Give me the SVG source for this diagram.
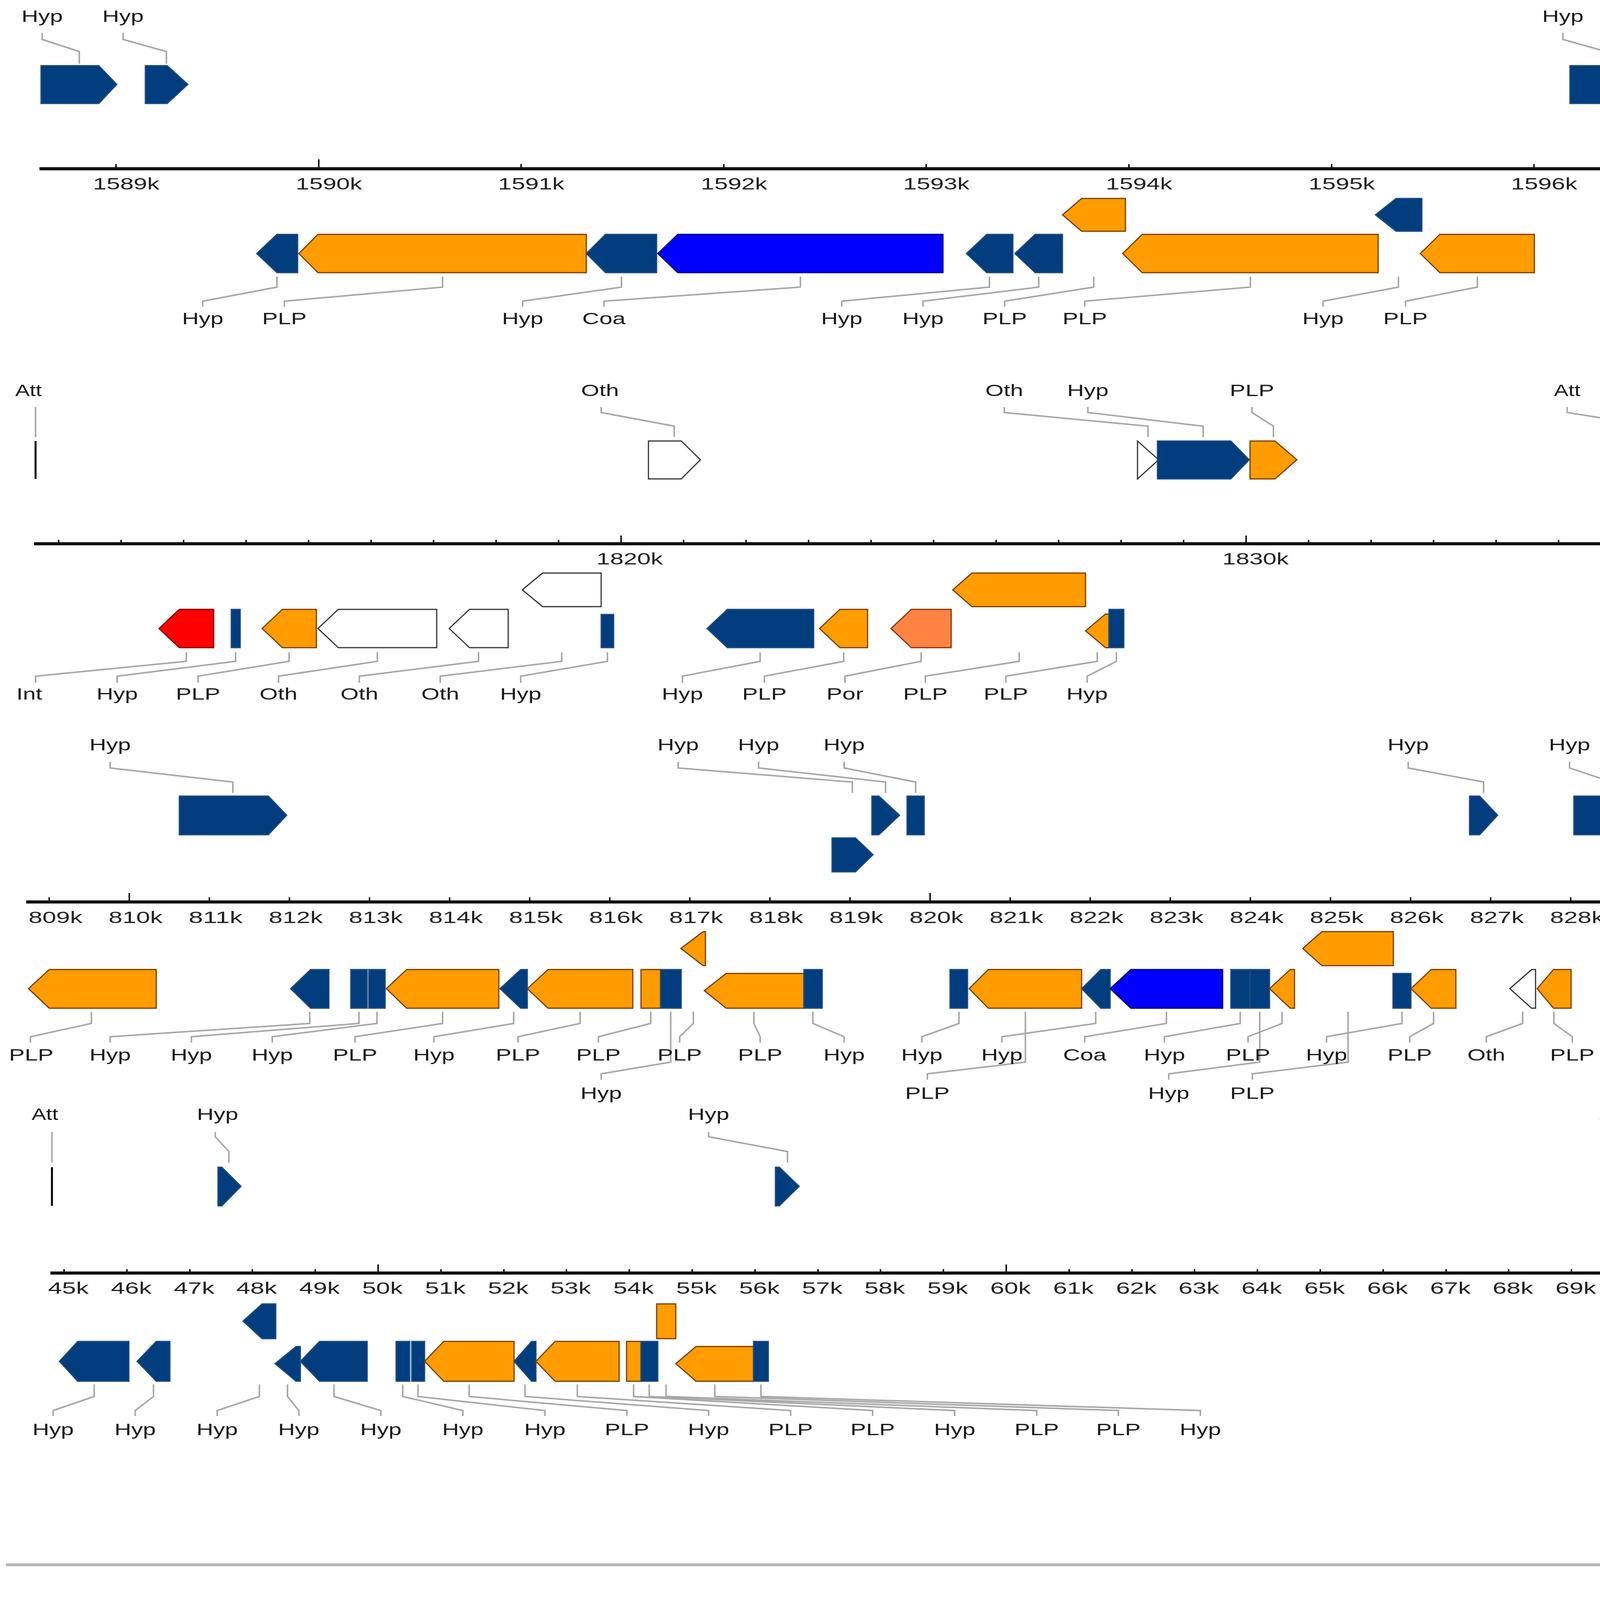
<svg xmlns="http://www.w3.org/2000/svg" width="4403" height="4800" viewBox="0 0 4403 4800">
<style>
.h{fill:#023E7D;stroke:#1f4a85;stroke-width:3}
.o{fill:#FF9C00;stroke:#7a3c00;stroke-width:3}
.c{fill:#0000FF;stroke:#00007a;stroke-width:3}
.w{fill:#FFFFFF;stroke:#333333;stroke-width:3}
.r{fill:#FF0000;stroke:#800000;stroke-width:3}
.p{fill:#FF8444;stroke:#8a3000;stroke-width:3}
.att{stroke:#000;stroke-width:5}
.ld{fill:none;stroke:#a8a8a8;stroke-width:4}
.ax{stroke:#111;stroke-width:8}
.tk{stroke:#111;stroke-width:4}
text{font-family:"Liberation Sans",Arial,sans-serif}
.l{font-size:42px;fill:#1a1a1a;text-anchor:middle}
.ls{font-size:42px;fill:#1a1a1a;text-anchor:start}
.k{font-size:43px;fill:#222;text-anchor:middle}
.g{font-size:53px;fill:#111}
.ti{font-size:57px;font-weight:bold;fill:#111}
.sw{stroke-width:5}
</style>
<rect width="4403" height="4800" fill="#fff"/>

<g id="connectors">
<path class="ld" d="M108,84V101L203,132V163M315,84V101L426,132V163M4001,84V101L4112,132V163"/>
<path class="ld" d="M709,708V735L519,771V785M1133,708V735L728,771V785M1591,708V735L1338,771V785M2049,708V735L1546,771V785M2533,708V735L2155,771V785M2659,708V735L2363,771V785M2800,708V735L2572,771V785M3201,708V735L2777,771V785M3580,708V735L3387,771V785M3782,708V735L3598,771V785"/>
<path class="ld" d="M91,1042V1119M1539,1042V1056L1726,1091V1119M2571,1042V1056L2939,1091V1119M2785,1042V1056L3080,1091V1119M3205,1042V1056L3260,1091V1119M4012,1042V1056L4232,1091V1119"/>
<path class="ld" d="M477,1670V1693L91,1731V1748M603,1670V1693L300,1731V1748M740,1670V1693L507,1731V1748M966,1670V1693L713,1731V1748M1225,1670V1693L920,1731V1748M1438,1670V1693L1127,1731V1748M1555,1670V1693L1333,1731V1748M1946,1670V1693L1747,1731V1748M2160,1670V1693L1957,1731V1748M2358,1670V1693L2163,1731V1748M2609,1670V1693L2369,1731V1748M2809,1670V1693L2575,1731V1748M2858,1670V1693L2783,1731V1748"/>
<path class="ld" d="M282,1950V1966L596,2002V2030M1736,1950V1966L2182,2002V2030M1942,1950V1966L2267,2002V2030M2161,1950V1966L2344,2002V2030M3605,1950V1966L3798,2002V2030M4018,1950V1966L4126,2002V2030"/>
<path class="ld" d="M234,2590V2620L78,2654V2669M793,2590V2620L282,2654V2669M919,2590V2620L490,2654V2669M965,2590V2620L697,2654V2669M1133,2590V2620L909,2654V2669M1315,2590V2620L1111,2654V2669M1485,2590V2620L1326,2654V2669M1666,2590V2620L1532,2654V2669M1775,2590V2620L1740,2654V2669M1930,2590V2620L1946,2654V2669M2081,2590V2620L2161,2654V2669M2455,2590V2620L2360,2654V2669M2805,2590V2620L2565,2654V2669M2986,2590V2620L2777,2654V2669M3175,2590V2620L2981,2654V2669M3282,2590V2620L3195,2654V2669M3589,2590V2620L3396,2654V2669M3670,2590V2620L3609,2654V2669M3898,2590V2620L3805,2654V2669M3978,2590V2620L4025,2654V2669"/>
<path class="ld" d="M1717,2590V2719L1539,2749V2764M2625,2590V2719L2374,2749V2764M3225,2590V2719L2992,2749V2764M3451,2590V2719L3206,2749V2764"/>
<path class="ld" d="M133,2898V2976M551,2898V2910L586,2948V2976M1814,2898V2910L2016,2948V2976M4129,2898V2910L4354,2948V2976"/>
<path class="ld" d="M241,3544V3575L136,3611V3625M393,3544V3575L346,3611V3625M664,3544V3575L556,3611V3625M736,3544V3575L765,3611V3625M855,3544V3575L975,3611V3625M1031,3544V3575L1185,3611V3625M1070,3544V3575L1395,3611V3625M1201,3544V3575L1605,3611V3625M1344,3544V3575L1814,3611V3625M1478,3544V3575L2024,3611V3625M1622,3544V3575L2234,3611V3625M1662,3544V3575L2444,3611V3625M1705,3544V3575L2654,3611V3625M1830,3544V3575L2863,3611V3625M1948,3544V3575L3073,3611V3625"/>
</g>

<!-- Panel 1 axis -->
<g id="axis1">
<line class="ax" x1="101" y1="432" x2="4206" y2="432"/>
<path class="tk" d="M297,420V432M816,408V432M1334,420V432M1853,420V432M2371,420V432M2890,420V432M3409,420V432M3927,420V432"/>
<text class="k" x="323" y="485" textLength="170" lengthAdjust="spacingAndGlyphs">1589k</text>
<text class="k" x="842" y="485" textLength="170" lengthAdjust="spacingAndGlyphs">1590k</text>
<text class="k" x="1360" y="485" textLength="170" lengthAdjust="spacingAndGlyphs">1591k</text>
<text class="k" x="1879" y="485" textLength="170" lengthAdjust="spacingAndGlyphs">1592k</text>
<text class="k" x="2397" y="485" textLength="170" lengthAdjust="spacingAndGlyphs">1593k</text>
<text class="k" x="2916" y="485" textLength="170" lengthAdjust="spacingAndGlyphs">1594k</text>
<text class="k" x="3435" y="485" textLength="170" lengthAdjust="spacingAndGlyphs">1595k</text>
<text class="k" x="3953" y="485" textLength="170" lengthAdjust="spacingAndGlyphs">1596k</text>
</g>
<!-- Panel 1 genes -->
<g id="p1t1"><polygon class="h" points="105,168 253,168 299,216 253,265 105,265"/><text class="l" x="108" y="56" textLength="106" lengthAdjust="spacingAndGlyphs">Hyp</text></g>
<g id="p1t2"><polygon class="h" points="372,168 428,168 481,216 428,265 372,265"/><text class="l" x="315" y="56" textLength="106" lengthAdjust="spacingAndGlyphs">Hyp</text></g>
<g id="p1t3"><polygon class="h" points="4019,168 4153,168 4206,216 4153,265 4019,265"/><text class="l" x="4001" y="56" textLength="106" lengthAdjust="spacingAndGlyphs">Hyp</text></g>
<g id="p1b1"><polygon class="h" points="762,600 709,600 657,649 709,698 762,698"/><text class="l" x="519" y="830" textLength="106" lengthAdjust="spacingAndGlyphs">Hyp</text></g>
<g id="p1b2"><polygon class="o" points="1501,600 814,600 765,649 814,698 1501,698"/><text class="l" x="728" y="830" textLength="114" lengthAdjust="spacingAndGlyphs">PLP</text></g>
<g id="p1b3"><polygon class="h" points="1681,600 1550,600 1501,649 1550,698 1681,698"/><text class="l" x="1338" y="830" textLength="106" lengthAdjust="spacingAndGlyphs">Hyp</text></g>
<g id="p1b4"><polygon class="c" points="2414,600 1735,600 1684,649 1735,698 2414,698"/><text class="l" x="1546" y="830" textLength="111" lengthAdjust="spacingAndGlyphs">Coa</text></g>
<g id="p1b5"><polygon class="h" points="2593,600 2526,600 2474,649 2526,698 2593,698"/><text class="l" x="2155" y="830" textLength="106" lengthAdjust="spacingAndGlyphs">Hyp</text></g>
<g id="p1b6"><polygon class="h" points="2720,600 2650,600 2598,649 2650,698 2720,698"/><text class="l" x="2363" y="830" textLength="106" lengthAdjust="spacingAndGlyphs">Hyp</text></g>
<g id="p1b7"><polygon class="o" points="2881,508 2769,508 2720,550 2769,592 2881,592"/><text class="l" x="2572" y="830" textLength="114" lengthAdjust="spacingAndGlyphs">PLP</text></g>
<g id="p1b8"><polygon class="o" points="3528,600 2924,600 2874,649 2924,698 3528,698"/><text class="l" x="2777" y="830" textLength="114" lengthAdjust="spacingAndGlyphs">PLP</text></g>
<g id="p1b9"><polygon class="h" points="3640,508 3574,508 3521,550 3574,592 3640,592"/><text class="l" x="3387" y="830" textLength="106" lengthAdjust="spacingAndGlyphs">Hyp</text></g>
<g id="p1b10"><polygon class="o" points="3928,600 3686,600 3636,649 3686,698 3928,698"/><text class="l" x="3598" y="830" textLength="114" lengthAdjust="spacingAndGlyphs">PLP</text></g>

<!-- Panel 2 axis -->
<g id="axis2">
<line class="ax" x1="87" y1="1392" x2="4237" y2="1392"/>
<path class="tk" d="M150,1382V1392M310,1382V1392M470,1382V1392M630,1382V1392M790,1382V1392M950,1382V1392M1110,1382V1392M1270,1382V1392M1430,1382V1392M1590,1371V1392M1750,1382V1392M1910,1382V1392M2070,1382V1392M2230,1382V1392M2390,1382V1392M2550,1382V1392M2710,1382V1392M2870,1382V1392M3030,1382V1392M3190,1371V1392M3350,1382V1392M3510,1382V1392M3670,1382V1392M3830,1382V1392M3990,1382V1392M4150,1382V1392"/>
<text class="k" x="1612" y="1445" textLength="170" lengthAdjust="spacingAndGlyphs">1820k</text>
<text class="k" x="3214" y="1445" textLength="170" lengthAdjust="spacingAndGlyphs">1830k</text>
</g>
<g id="p2att1"><line class="att" x1="91" y1="1129" x2="91" y2="1226"/><text class="ls" x="39" y="1014" textLength="68" lengthAdjust="spacingAndGlyphs">Att</text></g>
<g id="p2t1"><polygon class="w" points="1660,1129 1744,1129 1793,1177 1744,1226 1660,1226"/><text class="l" x="1536" y="1014" textLength="97" lengthAdjust="spacingAndGlyphs">Oth</text></g>
<g id="p2t2"><polygon class="w" points="2912,1129 2966,1177 2912,1226"/><text class="l" x="2571" y="1014" textLength="97" lengthAdjust="spacingAndGlyphs">Oth</text></g>
<g id="p2t3"><polygon class="h" points="2963,1129 3151,1129 3198,1177 3151,1226 2963,1226"/><text class="l" x="2785" y="1014" textLength="106" lengthAdjust="spacingAndGlyphs">Hyp</text></g>
<g id="p2t4"><polygon class="o" points="3200,1129 3264,1129 3320,1177 3264,1226 3200,1226"/><text class="l" x="3205" y="1014" textLength="114" lengthAdjust="spacingAndGlyphs">PLP</text></g>
<g id="p2att2"><line class="att" x1="4232" y1="1129" x2="4232" y2="1226"/><text class="l" x="4012" y="1014" textLength="68" lengthAdjust="spacingAndGlyphs">Att</text></g>
<g id="p2b1"><polygon class="r" points="547,1560 459,1560 407,1609 459,1658 547,1658"/><text class="ls" x="42" y="1791" textLength="66" lengthAdjust="spacingAndGlyphs">Int</text></g>
<g id="p2b2"><rect class="h" x="592" y="1560" width="23" height="98"/><text class="l" x="300" y="1791" textLength="106" lengthAdjust="spacingAndGlyphs">Hyp</text></g>
<g id="p2b3"><polygon class="o" points="810,1560 723,1560 671,1609 723,1658 810,1658"/><text class="l" x="507" y="1791" textLength="114" lengthAdjust="spacingAndGlyphs">PLP</text></g>
<g id="p2b4"><polygon class="w" points="1118,1560 866,1560 814,1609 866,1658 1118,1658"/><text class="l" x="713" y="1791" textLength="97" lengthAdjust="spacingAndGlyphs">Oth</text></g>
<g id="p2b5"><polygon class="w" points="1301,1560 1202,1560 1150,1609 1202,1658 1301,1658"/><text class="l" x="920" y="1791" textLength="97" lengthAdjust="spacingAndGlyphs">Oth</text></g>
<g id="p2b6"><polygon class="w" points="1539,1467 1389,1467 1337,1510 1389,1553 1539,1553"/><text class="l" x="1127" y="1791" textLength="97" lengthAdjust="spacingAndGlyphs">Oth</text></g>
<g id="p2b7"><rect class="h" x="1539" y="1573" width="32" height="85"/><text class="l" x="1333" y="1791" textLength="106" lengthAdjust="spacingAndGlyphs">Hyp</text></g>
<g id="p2b8"><polygon class="h" points="2083,1560 1862,1560 1810,1609 1862,1658 2083,1658"/><text class="l" x="1747" y="1791" textLength="106" lengthAdjust="spacingAndGlyphs">Hyp</text></g>
<g id="p2b9"><polygon class="o" points="2221,1560 2150,1560 2098,1609 2150,1658 2221,1658"/><text class="l" x="1957" y="1791" textLength="114" lengthAdjust="spacingAndGlyphs">PLP</text></g>
<g id="p2b10"><polygon class="p" points="2435,1560 2333,1560 2281,1609 2333,1658 2435,1658"/><text class="l" x="2163" y="1791" textLength="95" lengthAdjust="spacingAndGlyphs">Por</text></g>
<g id="p2b11"><polygon class="o" points="2779,1467 2488,1467 2439,1510 2488,1553 2779,1553"/><text class="l" x="2369" y="1791" textLength="114" lengthAdjust="spacingAndGlyphs">PLP</text></g>
<g id="p2b12"><polygon class="o" points="2839,1572 2830,1572 2779,1615 2830,1658 2839,1658"/><text class="l" x="2575" y="1791" textLength="114" lengthAdjust="spacingAndGlyphs">PLP</text></g>
<g id="p2b13"><rect class="h" x="2839" y="1560" width="38" height="98"/><text class="l" x="2783" y="1791" textLength="106" lengthAdjust="spacingAndGlyphs">Hyp</text></g>

<!-- Panel 3 axis -->
<g id="axis3">
<line class="ax" x1="67" y1="2309" x2="4226" y2="2309"/>
<path class="tk" d="M126,2297V2309M331,2286V2309M536,2297V2309M741,2297V2309M946,2297V2309M1151,2297V2309M1356,2297V2309M1561,2297V2309M1766,2297V2309M1971,2297V2309M2176,2297V2309M2381,2286V2309M2586,2297V2309M2791,2297V2309M2996,2297V2309M3201,2297V2309M3406,2297V2309M3611,2297V2309M3816,2297V2309M4021,2297V2309M4226,2297V2309"/>
<text class="k" x="142" y="2363" textLength="138" lengthAdjust="spacingAndGlyphs">809k</text>
<text class="k" x="347" y="2363" textLength="138" lengthAdjust="spacingAndGlyphs">810k</text>
<text class="k" x="552" y="2363" textLength="138" lengthAdjust="spacingAndGlyphs">811k</text>
<text class="k" x="757" y="2363" textLength="138" lengthAdjust="spacingAndGlyphs">812k</text>
<text class="k" x="962" y="2363" textLength="138" lengthAdjust="spacingAndGlyphs">813k</text>
<text class="k" x="1167" y="2363" textLength="138" lengthAdjust="spacingAndGlyphs">814k</text>
<text class="k" x="1372" y="2363" textLength="138" lengthAdjust="spacingAndGlyphs">815k</text>
<text class="k" x="1577" y="2363" textLength="138" lengthAdjust="spacingAndGlyphs">816k</text>
<text class="k" x="1782" y="2363" textLength="138" lengthAdjust="spacingAndGlyphs">817k</text>
<text class="k" x="1987" y="2363" textLength="138" lengthAdjust="spacingAndGlyphs">818k</text>
<text class="k" x="2192" y="2363" textLength="138" lengthAdjust="spacingAndGlyphs">819k</text>
<text class="k" x="2397" y="2363" textLength="138" lengthAdjust="spacingAndGlyphs">820k</text>
<text class="k" x="2602" y="2363" textLength="138" lengthAdjust="spacingAndGlyphs">821k</text>
<text class="k" x="2807" y="2363" textLength="138" lengthAdjust="spacingAndGlyphs">822k</text>
<text class="k" x="3012" y="2363" textLength="138" lengthAdjust="spacingAndGlyphs">823k</text>
<text class="k" x="3217" y="2363" textLength="138" lengthAdjust="spacingAndGlyphs">824k</text>
<text class="k" x="3422" y="2363" textLength="138" lengthAdjust="spacingAndGlyphs">825k</text>
<text class="k" x="3627" y="2363" textLength="138" lengthAdjust="spacingAndGlyphs">826k</text>
<text class="k" x="3832" y="2363" textLength="138" lengthAdjust="spacingAndGlyphs">827k</text>
<text class="k" x="4037" y="2363" textLength="138" lengthAdjust="spacingAndGlyphs">828k</text>
<text class="k" x="4242" y="2363" textLength="138" lengthAdjust="spacingAndGlyphs">829k</text>
</g>
<g id="p3t1"><polygon class="h" points="459,2038 687,2038 734,2087 687,2137 459,2137"/><text class="l" x="282" y="1921" textLength="106" lengthAdjust="spacingAndGlyphs">Hyp</text></g>
<g id="p3t2"><polygon class="h" points="2130,2145 2190,2145 2235,2188 2190,2232 2130,2232"/><text class="l" x="1736" y="1921" textLength="106" lengthAdjust="spacingAndGlyphs">Hyp</text></g>
<g id="p3t3"><polygon class="h" points="2232,2038 2250,2038 2303,2087 2250,2137 2232,2137"/><text class="l" x="1942" y="1921" textLength="106" lengthAdjust="spacingAndGlyphs">Hyp</text></g>
<g id="p3t4"><rect class="h" x="2322" y="2038" width="44" height="99"/><text class="l" x="2161" y="1921" textLength="106" lengthAdjust="spacingAndGlyphs">Hyp</text></g>
<g id="p3t5"><polygon class="h" points="3762,2038 3788,2038 3834,2087 3788,2137 3762,2137"/><text class="l" x="3605" y="1921" textLength="106" lengthAdjust="spacingAndGlyphs">Hyp</text></g>
<g id="p3t6"><polygon class="h" points="4029,2038 4174,2038 4223,2087 4174,2137 4029,2137"/><text class="l" x="4018" y="1921" textLength="106" lengthAdjust="spacingAndGlyphs">Hyp</text></g>
<g id="p3b1"><polygon class="o" points="400,2482 126,2482 73,2531 126,2581 400,2581"/><text class="l" x="80" y="2715" textLength="114" lengthAdjust="spacingAndGlyphs">PLP</text></g>
<g id="p3b2"><polygon class="h" points="842,2482 795,2482 744,2531 795,2581 842,2581"/><text class="l" x="282" y="2715" textLength="106" lengthAdjust="spacingAndGlyphs">Hyp</text></g>
<g id="p3b3"><rect class="h" x="898" y="2482" width="42" height="99"/><text class="l" x="490" y="2715" textLength="106" lengthAdjust="spacingAndGlyphs">Hyp</text></g>
<g id="p3b4"><rect class="h" x="944" y="2482" width="42" height="99"/><text class="l" x="697" y="2715" textLength="106" lengthAdjust="spacingAndGlyphs">Hyp</text></g>
<g id="p3b5"><polygon class="o" points="1277,2482 1041,2482 989,2531 1041,2581 1277,2581"/><text class="l" x="909" y="2715" textLength="114" lengthAdjust="spacingAndGlyphs">PLP</text></g>
<g id="p3b6"><polygon class="h" points="1350,2482 1333,2482 1280,2531 1333,2581 1350,2581"/><text class="l" x="1111" y="2715" textLength="106" lengthAdjust="spacingAndGlyphs">Hyp</text></g>
<g id="p3b7"><polygon class="o" points="1620,2482 1403,2482 1350,2531 1403,2581 1620,2581"/><text class="l" x="1326" y="2715" textLength="114" lengthAdjust="spacingAndGlyphs">PLP</text></g>
<g id="p3b8"><rect class="o" x="1641" y="2482" width="50" height="99"/><text class="l" x="1532" y="2715" textLength="114" lengthAdjust="spacingAndGlyphs">PLP</text></g>
<g id="p3b9"><rect class="h" x="1691" y="2482" width="53" height="99"/><text class="l" x="1539" y="2813" textLength="106" lengthAdjust="spacingAndGlyphs">Hyp</text></g>
<g id="p3b10"><polygon class="o" points="1806,2385 1800,2385 1743,2428 1800,2472 1806,2472"/><text class="l" x="1740" y="2715" textLength="114" lengthAdjust="spacingAndGlyphs">PLP</text></g>
<g id="p3b11"><polygon class="o" points="2058,2492 1859,2492 1803,2536 1859,2581 2058,2581"/><text class="l" x="1946" y="2715" textLength="114" lengthAdjust="spacingAndGlyphs">PLP</text></g>
<g id="p3b12"><rect class="h" x="2058" y="2482" width="47" height="99"/><text class="l" x="2161" y="2715" textLength="106" lengthAdjust="spacingAndGlyphs">Hyp</text></g>
<g id="p3b13"><rect class="h" x="2432" y="2482" width="45" height="99"/><text class="l" x="2360" y="2715" textLength="106" lengthAdjust="spacingAndGlyphs">Hyp</text></g>
<g id="p3b14"><polygon class="o" points="2769,2482 2530,2482 2481,2531 2530,2581 2769,2581"/><text class="l" x="2374" y="2813" textLength="114" lengthAdjust="spacingAndGlyphs">PLP</text></g>
<g id="p3b15"><polygon class="h" points="2842,2482 2818,2482 2769,2531 2818,2581 2842,2581"/><text class="l" x="2565" y="2715" textLength="106" lengthAdjust="spacingAndGlyphs">Hyp</text></g>
<g id="p3b16"><polygon class="c" points="3130,2482 2895,2482 2842,2531 2895,2581 3130,2581"/><text class="l" x="2777" y="2715" textLength="111" lengthAdjust="spacingAndGlyphs">Coa</text></g>
<g id="p3b17"><rect class="h" x="3151" y="2482" width="49" height="99"/><text class="l" x="2981" y="2715" textLength="106" lengthAdjust="spacingAndGlyphs">Hyp</text></g>
<g id="p3b18"><rect class="h" x="3200" y="2482" width="50" height="99"/><text class="l" x="2992" y="2813" textLength="106" lengthAdjust="spacingAndGlyphs">Hyp</text></g>
<g id="p3b19"><polygon class="o" points="3314,2482 3303,2482 3250,2531 3303,2581 3314,2581"/><text class="l" x="3195" y="2715" textLength="114" lengthAdjust="spacingAndGlyphs">PLP</text></g>
<g id="p3b20"><polygon class="o" points="3567,2385 3384,2385 3335,2428 3384,2472 3567,2472"/><text class="l" x="3206" y="2813" textLength="114" lengthAdjust="spacingAndGlyphs">PLP</text></g>
<g id="p3b21"><rect class="h" x="3566" y="2492" width="46" height="89"/><text class="l" x="3396" y="2715" textLength="106" lengthAdjust="spacingAndGlyphs">Hyp</text></g>
<g id="p3b22"><polygon class="o" points="3727,2482 3664,2482 3612,2531 3664,2581 3727,2581"/><text class="l" x="3609" y="2715" textLength="114" lengthAdjust="spacingAndGlyphs">PLP</text></g>
<g id="p3b23"><polygon class="w" points="3931,2482 3921,2482 3865,2531 3921,2581 3931,2581"/><text class="l" x="3805" y="2715" textLength="97" lengthAdjust="spacingAndGlyphs">Oth</text></g>
<g id="p3b24"><polygon class="o" points="4022,2482 3977,2482 3935,2531 3977,2581 4022,2581"/><text class="l" x="4025" y="2715" textLength="114" lengthAdjust="spacingAndGlyphs">PLP</text></g>

<!-- Panel 4 axis -->
<g id="axis4">
<line class="ax" x1="129" y1="3259" x2="4357" y2="3259"/>
<path class="tk" d="M164,3249V3259M325,3249V3259M486,3249V3259M646,3249V3259M807,3249V3259M968,3237V3259M1129,3249V3259M1290,3249V3259M1450,3249V3259M1611,3249V3259M1772,3249V3259M1933,3249V3259M2094,3249V3259M2254,3249V3259M2415,3249V3259M2576,3237V3259M2737,3249V3259M2898,3249V3259M3058,3249V3259M3219,3249V3259M3380,3249V3259M3541,3249V3259M3702,3249V3259M3862,3249V3259M4023,3249V3259M4184,3237V3259"/>
<text class="k" x="175" y="3312" textLength="104" lengthAdjust="spacingAndGlyphs">45k</text>
<text class="k" x="336" y="3312" textLength="104" lengthAdjust="spacingAndGlyphs">46k</text>
<text class="k" x="497" y="3312" textLength="104" lengthAdjust="spacingAndGlyphs">47k</text>
<text class="k" x="657" y="3312" textLength="104" lengthAdjust="spacingAndGlyphs">48k</text>
<text class="k" x="818" y="3312" textLength="104" lengthAdjust="spacingAndGlyphs">49k</text>
<text class="k" x="979" y="3312" textLength="104" lengthAdjust="spacingAndGlyphs">50k</text>
<text class="k" x="1140" y="3312" textLength="104" lengthAdjust="spacingAndGlyphs">51k</text>
<text class="k" x="1301" y="3312" textLength="104" lengthAdjust="spacingAndGlyphs">52k</text>
<text class="k" x="1461" y="3312" textLength="104" lengthAdjust="spacingAndGlyphs">53k</text>
<text class="k" x="1622" y="3312" textLength="104" lengthAdjust="spacingAndGlyphs">54k</text>
<text class="k" x="1783" y="3312" textLength="104" lengthAdjust="spacingAndGlyphs">55k</text>
<text class="k" x="1944" y="3312" textLength="104" lengthAdjust="spacingAndGlyphs">56k</text>
<text class="k" x="2105" y="3312" textLength="104" lengthAdjust="spacingAndGlyphs">57k</text>
<text class="k" x="2265" y="3312" textLength="104" lengthAdjust="spacingAndGlyphs">58k</text>
<text class="k" x="2426" y="3312" textLength="104" lengthAdjust="spacingAndGlyphs">59k</text>
<text class="k" x="2587" y="3312" textLength="104" lengthAdjust="spacingAndGlyphs">60k</text>
<text class="k" x="2748" y="3312" textLength="104" lengthAdjust="spacingAndGlyphs">61k</text>
<text class="k" x="2909" y="3312" textLength="104" lengthAdjust="spacingAndGlyphs">62k</text>
<text class="k" x="3069" y="3312" textLength="104" lengthAdjust="spacingAndGlyphs">63k</text>
<text class="k" x="3230" y="3312" textLength="104" lengthAdjust="spacingAndGlyphs">64k</text>
<text class="k" x="3391" y="3312" textLength="104" lengthAdjust="spacingAndGlyphs">65k</text>
<text class="k" x="3552" y="3312" textLength="104" lengthAdjust="spacingAndGlyphs">66k</text>
<text class="k" x="3713" y="3312" textLength="104" lengthAdjust="spacingAndGlyphs">67k</text>
<text class="k" x="3873" y="3312" textLength="104" lengthAdjust="spacingAndGlyphs">68k</text>
<text class="k" x="4034" y="3312" textLength="104" lengthAdjust="spacingAndGlyphs">69k</text>
<text class="k" x="4195" y="3312" textLength="104" lengthAdjust="spacingAndGlyphs">70k</text>
</g>
<g id="p4att1"><line class="att" x1="133" y1="2988" x2="133" y2="3087"/><text class="ls" x="81" y="2867" textLength="68" lengthAdjust="spacingAndGlyphs">Att</text></g>
<g id="p4t1"><polygon class="h" points="558,2988 568,2988 617,3037 568,3087 558,3087"/><text class="l" x="557" y="2867" textLength="106" lengthAdjust="spacingAndGlyphs">Hyp</text></g>
<g id="p4t2"><polygon class="h" points="1985,2988 1995,2988 2046,3037 1995,3087 1985,3087"/><text class="l" x="1814" y="2867" textLength="106" lengthAdjust="spacingAndGlyphs">Hyp</text></g>
<g id="p4att2"><line class="att" x1="4354" y1="2988" x2="4354" y2="3087"/><text class="l" x="4129" y="2867" textLength="68" lengthAdjust="spacingAndGlyphs">Att</text></g>
<g id="p4b1"><polygon class="h" points="330,3434 199,3434 152,3485 199,3536 330,3536"/><text class="l" x="136" y="3674" textLength="106" lengthAdjust="spacingAndGlyphs">Hyp</text></g>
<g id="p4b2"><polygon class="h" points="435,3434 400,3434 351,3485 400,3536 435,3536"/><text class="l" x="346" y="3674" textLength="106" lengthAdjust="spacingAndGlyphs">Hyp</text></g>
<g id="p4b3"><polygon class="h" points="706,3338 671,3338 622,3382 671,3427 706,3427"/><text class="l" x="556" y="3674" textLength="106" lengthAdjust="spacingAndGlyphs">Hyp</text></g>
<g id="p4b4"><polygon class="h" points="769,3447 758,3447 704,3491 758,3536 769,3536"/><text class="l" x="765" y="3674" textLength="106" lengthAdjust="spacingAndGlyphs">Hyp</text></g>
<g id="p4b5"><polygon class="h" points="940,3434 818,3434 769,3485 818,3536 940,3536"/><text class="l" x="975" y="3674" textLength="106" lengthAdjust="spacingAndGlyphs">Hyp</text></g>
<g id="p4b6"><rect class="h" x="1014" y="3434" width="35" height="102"/><text class="l" x="1185" y="3674" textLength="106" lengthAdjust="spacingAndGlyphs">Hyp</text></g>
<g id="p4b7"><rect class="h" x="1054" y="3434" width="33" height="102"/><text class="l" x="1395" y="3674" textLength="106" lengthAdjust="spacingAndGlyphs">Hyp</text></g>
<g id="p4b8"><polygon class="o" points="1316,3434 1136,3434 1087,3485 1136,3536 1316,3536"/><text class="l" x="1605" y="3674" textLength="114" lengthAdjust="spacingAndGlyphs">PLP</text></g>
<g id="p4b9"><polygon class="h" points="1372,3434 1361,3434 1316,3485 1361,3536 1372,3536"/><text class="l" x="1814" y="3674" textLength="106" lengthAdjust="spacingAndGlyphs">Hyp</text></g>
<g id="p4b10"><polygon class="o" points="1585,3434 1421,3434 1372,3485 1421,3536 1585,3536"/><text class="l" x="2024" y="3674" textLength="114" lengthAdjust="spacingAndGlyphs">PLP</text></g>
<g id="p4b11"><rect class="o" x="1604" y="3434" width="37" height="102"/><text class="l" x="2234" y="3674" textLength="114" lengthAdjust="spacingAndGlyphs">PLP</text></g>
<g id="p4b12"><rect class="h" x="1641" y="3434" width="43" height="102"/><text class="l" x="2444" y="3674" textLength="106" lengthAdjust="spacingAndGlyphs">Hyp</text></g>
<g id="p4b13"><rect class="o" x="1681" y="3338" width="49" height="89"/><text class="l" x="2654" y="3674" textLength="114" lengthAdjust="spacingAndGlyphs">PLP</text></g>
<g id="p4b14"><polygon class="o" points="1929,3447 1782,3447 1730,3491 1782,3536 1929,3536"/><text class="l" x="2863" y="3674" textLength="114" lengthAdjust="spacingAndGlyphs">PLP</text></g>
<g id="p4b15"><rect class="h" x="1929" y="3434" width="38" height="102"/><text class="l" x="3073" y="3674" textLength="106" lengthAdjust="spacingAndGlyphs">Hyp</text></g>

<!-- Legend -->
<g id="legend">
<line x1="15" y1="4006" x2="4397" y2="4006" stroke="#b4b4b4" stroke-width="7"/>
<text class="ti" x="171" y="4145" textLength="790" lengthAdjust="spacingAndGlyphs">Identified CDS types:</text>
<g id="lg1"><rect class="sw" x="182" y="4314" width="292" height="62" fill="#00C2D9" stroke="#005566"/><text class="g" x="544" y="4365" textLength="40" lengthAdjust="spacingAndGlyphs">1</text><text class="g" x="671" y="4365" textLength="160" lengthAdjust="spacingAndGlyphs">Lysis</text></g>
<g id="lg2"><rect class="sw" x="1497" y="4314" width="289" height="62" fill="#00FFFF" stroke="#006f6f"/><text class="g" x="1849" y="4365" textLength="40" lengthAdjust="spacingAndGlyphs">2</text><text class="g" x="1981" y="4365" textLength="338" lengthAdjust="spacingAndGlyphs">Terminase</text></g>
<g id="lg3"><rect class="sw" x="2808" y="4314" width="291" height="62" fill="#FF8040" stroke="#8a2500"/><text class="g" x="3164" y="4365" textLength="40" lengthAdjust="spacingAndGlyphs">3</text><text class="g" x="3296" y="4365" textLength="187" lengthAdjust="spacingAndGlyphs">Portal</text></g>
<g id="lg4"><rect class="sw" x="182" y="4412" width="292" height="62" fill="#FFFF00" stroke="#666600"/><text class="g" x="544" y="4463" textLength="40" lengthAdjust="spacingAndGlyphs">4</text><text class="g" x="671" y="4463" textLength="290" lengthAdjust="spacingAndGlyphs">Protease</text></g>
<g id="lg5"><rect class="sw" x="1497" y="4412" width="289" height="62" fill="#0000FF" stroke="#000080"/><text class="g" x="1849" y="4463" textLength="40" lengthAdjust="spacingAndGlyphs">5</text><text class="g" x="1981" y="4463" textLength="154" lengthAdjust="spacingAndGlyphs">Coat</text></g>
<g id="lg6"><rect class="sw" x="2808" y="4412" width="291" height="62" fill="#808000" stroke="#333300"/><text class="g" x="3164" y="4463" textLength="40" lengthAdjust="spacingAndGlyphs">6</text><text class="g" x="3296" y="4463" textLength="288" lengthAdjust="spacingAndGlyphs">Tail shaft</text></g>
<g id="lg7"><rect class="sw" x="182" y="4510" width="292" height="62" fill="#000000" stroke="#000000"/><text class="g" x="544" y="4561" textLength="40" lengthAdjust="spacingAndGlyphs">7</text><text class="g" x="671" y="4561" textLength="500" lengthAdjust="spacingAndGlyphs">Attachment site</text></g>
<g id="lg8"><rect class="sw" x="1497" y="4510" width="289" height="62" fill="#FF0000" stroke="#800000"/><text class="g" x="1849" y="4561" textLength="40" lengthAdjust="spacingAndGlyphs">8</text><text class="g" x="1981" y="4561" textLength="322" lengthAdjust="spacingAndGlyphs">Intergrase</text></g>
<g id="lg9"><rect class="sw" x="2808" y="4510" width="291" height="62" fill="#FF9900" stroke="#803c00"/><text class="g" x="3164" y="4561" textLength="40" lengthAdjust="spacingAndGlyphs">9</text><text class="g" x="3296" y="4561" textLength="784" lengthAdjust="spacingAndGlyphs">Other phage-like protein</text></g>
<g id="lg10"><rect class="sw" x="182" y="4607" width="292" height="62" fill="#023E7D" stroke="#001a40"/><text class="g" x="544" y="4658" textLength="75" lengthAdjust="spacingAndGlyphs">10</text><text class="g" x="671" y="4658" textLength="645" lengthAdjust="spacingAndGlyphs">Hypothetical protein</text></g>
<g id="lg11"><rect class="sw" x="1497" y="4607" width="289" height="62" fill="#FFFFFF" stroke="#555555"/><text class="g" x="1849" y="4658" textLength="75" lengthAdjust="spacingAndGlyphs">11</text><text class="g" x="1981" y="4658" textLength="180" lengthAdjust="spacingAndGlyphs">Other</text></g>
<g id="lg12"><rect class="sw" x="2808" y="4607" width="291" height="62" fill="#FFFFCC" stroke="#666633"/><text class="g" x="3164" y="4658" textLength="75" lengthAdjust="spacingAndGlyphs">12</text><text class="g" x="3296" y="4658" textLength="414" lengthAdjust="spacingAndGlyphs">Transposase</text></g>
<g id="lg13"><rect class="sw" x="182" y="4704" width="292" height="62" fill="#0A3300" stroke="#001a00"/><text class="g" x="544" y="4755" textLength="75" lengthAdjust="spacingAndGlyphs">13</text><text class="g" x="671" y="4755" textLength="270" lengthAdjust="spacingAndGlyphs">Tail fiber</text></g>
<g id="lg14"><rect class="sw" x="1497" y="4704" width="289" height="62" fill="#8000FF" stroke="#400080"/><text class="g" x="1849" y="4755" textLength="75" lengthAdjust="spacingAndGlyphs">14</text><text class="g" x="1981" y="4755" textLength="166" lengthAdjust="spacingAndGlyphs">Plate</text></g>
<g id="lg15"><rect class="sw" x="2808" y="4704" width="291" height="62" fill="#FFC0CB" stroke="#804050"/><text class="g" x="3164" y="4755" textLength="75" lengthAdjust="spacingAndGlyphs">15</text><text class="g" x="3296" y="4755" textLength="169" lengthAdjust="spacingAndGlyphs">tRNA</text></g>
</g>
</svg>
